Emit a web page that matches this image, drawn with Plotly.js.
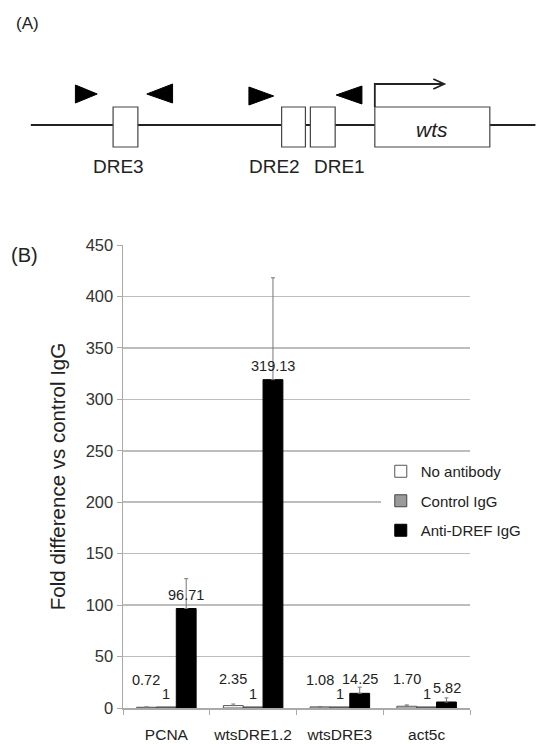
<!DOCTYPE html>
<html><head><meta charset="utf-8">
<script src="https://cdn.plot.ly/plotly-3.0.1.min.js"></script>
<style>html,body{margin:0;padding:0;background:#fff;}</style>
</head><body><div id="chart" style="width:539px;height:744px;"></div>
<script>
// ---- data ----
const categories = ['PCNA', 'wtsDRE1.2', 'wtsDRE3', 'act5c'];
const seriesNames = ['No antibody', 'Control IgG', 'Anti-DREF IgG'];
const noAntibody = [0.72, 2.35, 1.08, 1.70];
const noAntibodyErr = [0.3, 1.5, 0.3, 1.3];
const controlIgG = [1, 1, 1, 1];
const controlErr = [0, 0, 0, 0];
const antiDREF = [96.71, 319.13, 14.25, 5.82];
const antiDREFErr = [29, 99, 6, 4];
const yTicks = [0, 50, 100, 150, 200, 250, 300, 350, 400, 450];

// ---- layout geometry ----
const W = 539, H = 744;
const M = {l: 123, r: 66, t: 245, b: 36};
const pw = W - M.l - M.r, ph = H - M.t - M.b;
const px = x => (x - M.l) / pw;
const py = y => (H - M.b - y) / ph;
const FONT = 'Liberation Sans, Arial, sans-serif';

const values = [noAntibody, controlIgG, antiDREF];
const errs = [noAntibodyErr, controlErr, antiDREFErr];
const fills = ['#ffffff', '#9a9a9a', '#000000'];
const lines = ['#555555', '#444444', '#000000'];
const labelFmt = [v => v.toFixed(2), v => String(v), v => v.toFixed(2)];
const labelLift = [18, 4, 5];
const barW = 20;

const traces = values.map((vals, i) => ({
  type: 'bar', name: seriesNames[i], x: categories, y: vals,
  legendgroup: 'g' + i,
  marker: {color: fills[i], line: {color: lines[i], width: 1}},
  error_y: {type: 'data', array: errs[i], arrayminus: vals.map(() => 0), symmetric: false,
            visible: i !== 1, color: '#777', thickness: 1, width: 2},
  hoverinfo: 'skip'
}));

const annotations = [];
values.forEach((vals, i) => {
  vals.forEach((v, j) => {
    annotations.push({xref: 'x', yref: 'y', x: categories[j], y: v, text: labelFmt[i](v),
      showarrow: false, xanchor: 'center', yanchor: 'bottom', xshift: (i - 1) * barW,
      yshift: labelLift[i], borderpad: 0, font: {family: FONT, size: 14.5, color: '#222'}});
  });
});

// Panel labels and diagram text
annotations.push({xref: 'paper', yref: 'paper', x: px(13), y: py(23), text: '(A)', showarrow: false,
  xanchor: 'left', yanchor: 'middle', font: {family: FONT, size: 17, color: '#222'}});
annotations.push({xref: 'paper', yref: 'paper', x: px(8), y: py(255), text: '(B)', showarrow: false,
  xanchor: 'left', yanchor: 'middle', font: {family: FONT, size: 20, color: '#222'}});
[['DRE3', 118], ['DRE2', 276], ['DRE1', 341]].forEach(([t, x]) => {
  annotations.push({xref: 'paper', yref: 'paper', x: px(x), y: py(167), text: t, showarrow: false,
    xanchor: 'center', yanchor: 'middle', font: {family: FONT, size: 19, color: '#222'}});
});
annotations.push({xref: 'paper', yref: 'paper', x: px(435), y: py(129), text: '<i>wts</i>', showarrow: false,
  xanchor: 'center', yanchor: 'middle', font: {family: FONT, size: 21, color: '#222'}});

const shapes = [];
const P = (pts, close) => 'M' + pts.map(p => px(p[0]) + ',' + py(p[1])).join('L') + (close ? 'Z' : '');
// main line
shapes.push({type: 'line', xref: 'paper', yref: 'paper', x0: px(30), x1: px(539), y0: py(125), y1: py(125),
  line: {color: '#222', width: 2}});
// boxes
[[113, 138], [283, 307], [312, 337], [377, 493]].forEach(([a, b]) => {
  shapes.push({type: 'rect', xref: 'paper', yref: 'paper', x0: px(a), x1: px(b), y0: py(147), y1: py(107),
    fillcolor: '#fff', line: {color: '#444', width: 1.2}});
});
// primer triangles
const tri = [
  [[75, 85], [97, 94], [75, 103]],
  [[173, 84], [147, 94], [173, 103]],
  [[250, 87], [275, 96], [250, 105]],
  [[364, 86], [338, 95], [364, 104]]
];
tri.forEach(t => shapes.push({type: 'path', xref: 'paper', yref: 'paper', path: P(t, true),
  fillcolor: '#000', line: {color: '#000', width: 1}}));
// transcription start arrow
shapes.push({type: 'path', xref: 'paper', yref: 'paper', path: P([[377, 107], [377, 84], [446, 84]], false),
  line: {color: '#222', width: 1.8}});
shapes.push({type: 'path', xref: 'paper', yref: 'paper', path: P([[436, 79], [447, 84], [436, 89]], false),
  line: {color: '#222', width: 1.8}});

const layout = {
  width: W, height: H, margin: M,
  paper_bgcolor: '#fff', plot_bgcolor: '#fff',
  barmode: 'group', bargap: 0.314, bargroupgap: 0,
  font: {family: FONT, color: '#222'},
  showlegend: true,
  legend: {x: px(383), y: py(455), xanchor: 'left', yanchor: 'top', bgcolor: '#fff',
    font: {family: FONT, size: 15, color: '#222'}, tracegroupgap: 7, itemwidth: 30,
    traceorder: 'grouped'},
  xaxis: {type: 'category', categoryarray: categories, showline: true, linecolor: '#aaa', linewidth: 1.5,
    ticks: 'outside', tickson: 'boundaries', ticklen: 5, tickcolor: '#aaa', showgrid: false,
    tickangle: 0, ticklabelstandoff: 12,
    tickfont: {family: FONT, size: 15.5, color: '#222'}, fixedrange: true},
  yaxis: {range: [0, 450], tickvals: yTicks, ticktext: yTicks.map(String), showline: true, linecolor: '#aaa',
    linewidth: 1.5, ticks: 'outside', ticklen: 5, tickcolor: '#aaa', gridcolor: '#bdbdbd', gridwidth: 1.5,
    zeroline: false, tickfont: {family: FONT, size: 16.5, color: '#333'},
    title: {text: 'Fold difference vs control IgG', font: {family: FONT, size: 20.5, color: '#222'}, standoff: 14},
    fixedrange: true},
  annotations: annotations, shapes: shapes
};

Plotly.newPlot('chart', traces, layout, {displayModeBar: false, staticPlot: true});
</script>
</body></html>
